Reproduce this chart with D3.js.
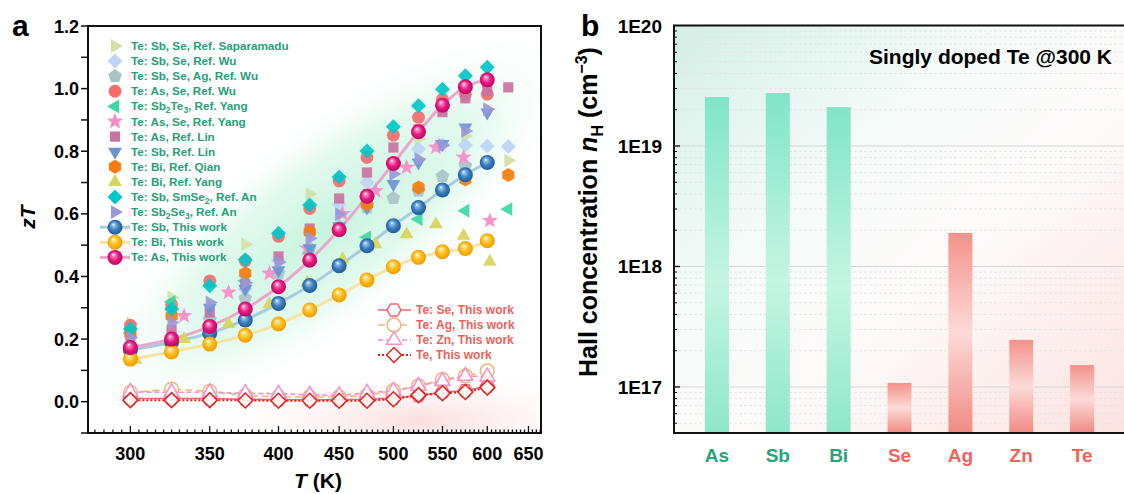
<!DOCTYPE html>
<html>
<head>
<meta charset="utf-8">
<script src="https://cdn.jsdelivr.net/npm/d3@7"></script>
<style>
  body { margin: 0; background: #fff; }
  svg { font-family: "Liberation Sans", Arial, sans-serif; font-weight: bold; }
</style>
</head>
<body>
<svg id="chart"></svg>
<script>
const W = 1124, H = 494

// ---- panel a data: zT vs T ----
const tThisWork = [300, 325, 350, 375, 400, 425, 450, 475, 500, 525, 550, 575, 600]
const ztSbThis = [0.165, 0.19, 0.219, 0.261, 0.314, 0.371, 0.434, 0.498, 0.562, 0.62, 0.676, 0.725, 0.764]
const ztBiThis = [0.136, 0.159, 0.184, 0.212, 0.248, 0.293, 0.341, 0.389, 0.431, 0.461, 0.479, 0.489, 0.514]
const ztAsThis = [0.173, 0.2, 0.24, 0.296, 0.367, 0.452, 0.549, 0.656, 0.761, 0.862, 0.947, 1.006, 1.028]
const ztSeThis = [0.01, 0.01, 0.01, 0.008, 0.006, 0.006, 0.006, 0.008, 0.012, 0.02, 0.03, 0.035, 0.05]
const ztAgThis = [0.03, 0.04, 0.033, 0.02, 0.015, 0.015, 0.015, 0.02, 0.035, 0.05, 0.07, 0.082, 0.098]
const ztZnThis = [0.031, 0.03, 0.03, 0.027, 0.025, 0.022, 0.02, 0.028, 0.035, 0.05, 0.066, 0.082, 0.08]
const ztTeThis = [0.005, 0.005, 0.005, 0.004, 0.003, 0.003, 0.003, 0.003, 0.008, 0.021, 0.027, 0.031, 0.045]

const tStep25 = [300, 325, 350, 375, 400, 425, 450, 475, 500, 525, 550, 575, 600]
const tStep25to625 = [300, 325, 350, 375, 400, 425, 450, 475, 500, 525, 550, 575, 600, 625]
const tYang = [303, 333, 363, 393, 423, 453, 483, 513, 543, 573, 603]

const tSaparamadu = [300, 325, 375, 425, 525, 575, 625]
const ztSaparamadu = [0.25, 0.333, 0.503, 0.663, 0.839, 0.849, 0.77]
const ztWuSbSe = [0.16, 0.21, 0.27, 0.36, 0.45, 0.54, 0.631, 0.70, 0.76, 0.807, 0.82, 0.82, 0.817, 0.815]
const tWuSbSeAg = [300, 325, 350, 375, 400, 425, 450, 475, 500, 525, 550, 575]
const ztWuSbSeAg = [0.16, 0.2, 0.26, 0.33, 0.41, 0.49, 0.56, 0.62, 0.65, 0.673, 0.72, 0.753]
const ztWuAsSe = [0.244, 0.31, 0.386, 0.45, 0.528, 0.617, 0.705, 0.78, 0.851, 0.908, 0.966, 0.982, 0.982]
const tYangSb2Te3 = [300, 325, 375, 425, 475, 525, 575, 625]
const ztYangSb2Te3 = [0.22, 0.319, 0.386, 0.474, 0.525, 0.583, 0.61, 0.615]
const tYangAsSe = [333, 363, 393, 423, 453, 483, 513, 543, 573, 603]
const ztYangAsSe = [0.274, 0.349, 0.41, 0.49, 0.6, 0.673, 0.748, 0.812, 0.78, 0.578]
const ztLinAs = [0.21, 0.23, 0.285, 0.375, 0.464, 0.553, 0.649, 0.732, 0.812, 0.87, 0.925, 0.969, 0.993, 1.004]
const ztLinSb = [0.16, 0.2, 0.3, 0.36, 0.42, 0.49, 0.56, 0.62, 0.695, 0.764, 0.823, 0.876, 0.924]
const tQian = [300, 325, 375, 425, 475, 525, 575, 625]
const ztQian = [0.218, 0.274, 0.41, 0.542, 0.631, 0.684, 0.71, 0.724]
const ztYangBi = [0.134, 0.2, 0.248, 0.311, 0.38, 0.455, 0.503, 0.535, 0.567, 0.53, 0.447]
const ztAnSmSe2 = [0.232, 0.296, 0.37, 0.453, 0.538, 0.628, 0.718, 0.801, 0.878, 0.945, 0.998, 1.041, 1.068]
const ztAnSb2Se3 = [0.205, 0.253, 0.317, 0.379, 0.445, 0.522, 0.599, 0.66, 0.727, 0.775, 0.819, 0.865, 0.934]

const xTicksA = [300, 350, 400, 450, 500, 550, 600, 650]
const yTicksA = [0.0, 0.2, 0.4, 0.6, 0.8, 1.0, 1.2]

// ---- panel b data: Hall concentration ----
const hallElements = ['As', 'Sb', 'Bi', 'Se', 'Ag', 'Zn', 'Te']
const hallValues = [2.55e19, 2.75e19, 2.1e19, 1.08e17, 1.9e18, 2.46e17, 1.52e17]
const hallGroup = ['g', 'g', 'g', 'r', 'r', 'r', 'r']
const yTicksB = [1e17, 1e18, 1e19, 1e20]
const yTickLabelsB = ['1E17', '1E18', '1E19', '1E20']

const svg = d3.select('#chart').attr('width', W).attr('height', H)
const defs = svg.append('defs')

// marker shapes
function poly(n, r, rot) {
  let pts = d3.range(n).map(i => {
    let a = rot + i * 2 * Math.PI / n
    return [r * Math.cos(a), r * Math.sin(a)]
  })
  return 'M' + pts.map(p => p[0].toFixed(2) + ',' + p[1].toFixed(2)).join('L') + 'Z'
}
function star(ro, ri) {
  let pts = d3.range(10).map(i => {
    let a = -Math.PI / 2 + i * Math.PI / 5, r = i % 2 ? ri : ro
    return [r * Math.cos(a), r * Math.sin(a)]
  })
  return 'M' + pts.map(p => p[0].toFixed(2) + ',' + p[1].toFixed(2)).join('L') + 'Z'
}
const shapes = {
  triRight: poly(3, 8, 0),
  triLeft: poly(3, 8, Math.PI),
  triDown: poly(3, 8, Math.PI / 2),
  triUp: poly(3, 8, -Math.PI / 2),
  diamond: poly(4, 7.5, 0),
  pentagon: poly(5, 7.2, -Math.PI / 2),
  hexagon: poly(6, 7, -Math.PI / 2),
  square: poly(4, 7.2, Math.PI / 4),
  circle: d3.symbol(d3.symbolCircle, 130)(),
  star: star(8.5, 3.6),
  hexOpen: poly(6, 7, 0),
  circleOpen: d3.symbol(d3.symbolCircle, 150)(),
  triOpen: poly(3, 8.5, -Math.PI / 2),
  diamondOpen: poly(4, 7.5, 0)
}

const refSeries = [
  { name: 'Te: Sb, Se, Ref. Saparamadu', shape: 'triRight', color: '#d3e2a4', T: tSaparamadu, zt: ztSaparamadu },
  { name: 'Te: Sb, Se, Ref. Wu', shape: 'diamond', color: '#bed5f5', T: tStep25to625, zt: ztWuSbSe },
  { name: 'Te: Sb, Se, Ag, Ref. Wu', shape: 'pentagon', color: '#a9c4c6', T: tWuSbSeAg, zt: ztWuSbSeAg },
  { name: 'Te: As, Se, Ref. Wu', shape: 'circle', color: '#f76d6b', T: tStep25, zt: ztWuAsSe },
  { name: 'Te: Sb2Te3, Ref. Yang', shape: 'triLeft', color: '#3fd7a3', T: tYangSb2Te3, zt: ztYangSb2Te3 },
  { name: 'Te: As, Se, Ref. Yang', shape: 'star', color: '#fa8bc9', T: tYangAsSe, zt: ztYangAsSe },
  { name: 'Te: As, Ref. Lin', shape: 'square', color: '#c9729f', T: tStep25to625, zt: ztLinAs },
  { name: 'Te: Sb, Ref. Lin', shape: 'triDown', color: '#6b93d3', T: tStep25, zt: ztLinSb },
  { name: 'Te: Bi, Ref. Qian', shape: 'hexagon', color: '#f97b0c', T: tQian, zt: ztQian },
  { name: 'Te: Bi, Ref. Yang', shape: 'triUp', color: '#d6d55c', T: tYang, zt: ztYangBi },
  { name: 'Te: Sb, SmSe2, Ref. An', shape: 'diamond', color: '#00c7c8', T: tStep25, zt: ztAnSmSe2 },
  { name: 'Te: Sb2Se3, Ref. An', shape: 'triRight', color: '#9a98d8', T: tStep25, zt: ztAnSb2Se3 }
]
const thisWork = [
  { name: 'Te: Sb, This work', zt: ztSbThis, base: '#3a7dbd', dark: '#1d558f', light: '#8fc0ea', line: '#a9cbe0', id: 'ballSb' },
  { name: 'Te: Bi, This work', zt: ztBiThis, base: '#ffba14', dark: '#e99700', light: '#ffe08a', line: '#f7e3a3', id: 'ballBi' },
  { name: 'Te: As, This work', zt: ztAsThis, base: '#ea1580', dark: '#b3075f', light: '#f78cc0', line: '#eba6cb', id: 'ballAs' }
]
const lowSeries = [
  { name: 'Te: Se, This work', zt: ztSeThis, shape: 'hexOpen', color: '#f26472', dash: null, w: 1.6 },
  { name: 'Te: Ag, This work', zt: ztAgThis, shape: 'circleOpen', color: '#e9b97c', dash: '7,4', w: 1.6 },
  { name: 'Te: Zn, This work', zt: ztZnThis, shape: 'triOpen', color: '#f98fc6', dash: '5,3', w: 1.6 },
  { name: 'Te, This work', zt: ztTeThis, shape: 'diamondOpen', color: '#e3221d', dash: '2,2', w: 2 }
]

// ball gradients
thisWork.forEach(s => {
  let g = defs.append('radialGradient').attr('id', s.id)
    .attr('cx', '50%').attr('cy', '50%').attr('r', '55%').attr('fx', '38%').attr('fy', '30%')
  g.append('stop').attr('offset', '0%').attr('stop-color', '#ffffff')
  g.append('stop').attr('offset', '18%').attr('stop-color', s.light)
  g.append('stop').attr('offset', '55%').attr('stop-color', s.base)
  g.append('stop').attr('offset', '100%').attr('stop-color', s.dark)
})

// ================= panel a =================
const A = { l: 88, r: 541, t: 26, b: 433 }
const xA = d3.scaleLog().domain([276.3, 666]).range([A.l, A.r])
const yA = d3.scaleLinear().domain([-0.1, 1.2]).range([A.b, A.t])

defs.append('clipPath').attr('id', 'clipA').append('rect')
  .attr('x', A.l).attr('y', A.t).attr('width', A.r - A.l).attr('height', A.b - A.t)

let glowG = defs.append('radialGradient').attr('id', 'glowGreen')
glowG.append('stop').attr('offset', '0%').attr('stop-color', '#c4f4dd').attr('stop-opacity', 0.95)
glowG.append('stop').attr('offset', '55%').attr('stop-color', '#d6f7e7').attr('stop-opacity', 0.7)
glowG.append('stop').attr('offset', '100%').attr('stop-color', '#ffffff').attr('stop-opacity', 0)
let glowP = defs.append('radialGradient').attr('id', 'glowPink')
glowP.append('stop').attr('offset', '0%').attr('stop-color', '#fbdada').attr('stop-opacity', 0.9)
glowP.append('stop').attr('offset', '100%').attr('stop-color', '#ffffff').attr('stop-opacity', 0)

const gA = svg.append('g')
const bgA = gA.append('g').attr('clip-path', 'url(#clipA)')
bgA.append('ellipse').attr('cx', 330).attr('cy', 225).attr('rx', 310).attr('ry', 105)
  .attr('transform', 'rotate(-37 330 225)').attr('fill', 'url(#glowGreen)')
bgA.append('ellipse').attr('cx', 420).attr('cy', 420).attr('rx', 230).attr('ry', 55)
  .attr('fill', 'url(#glowPink)')

// axes of panel a
const axA = gA.append('g')
axA.append('rect').attr('x', A.l).attr('y', A.t).attr('width', A.r - A.l).attr('height', A.b - A.t)
  .attr('fill', 'none').attr('stroke', '#111').attr('stroke-width', 2)
d3.range(-0.1, 1.21, 0.1).forEach(v => {
  axA.append('line').attr('x1', A.l - 7).attr('x2', A.l).attr('y1', yA(v)).attr('y2', yA(v))
    .attr('stroke', '#111').attr('stroke-width', 1.5)
})
yTicksA.forEach(v => {
  axA.append('text').attr('x', A.l - 9).attr('y', yA(v) + 6.5).attr('text-anchor', 'end')
    .attr('font-size', 18).text(v.toFixed(1))
})
d3.range(280, 666, 5).forEach(v => {
  let major = v % 50 === 0
  axA.append('line').attr('x1', xA(v)).attr('x2', xA(v)).attr('y1', A.b).attr('y2', A.b - (major ? 7 : 3.5))
    .attr('stroke', '#111').attr('stroke-width', 1.3)
})
xTicksA.forEach(v => {
  axA.append('text').attr('x', xA(v)).attr('y', 460).attr('text-anchor', 'middle')
    .attr('font-size', 18).text(v)
})
axA.append('text').attr('transform', 'translate(35,217) rotate(-90)').attr('text-anchor', 'middle')
  .attr('font-size', 21).attr('font-style', 'italic').text('zT')
let xt = axA.append('text').attr('x', 318).attr('y', 488).attr('text-anchor', 'middle').attr('font-size', 21)
xt.append('tspan').attr('font-style', 'italic').text('T')
xt.append('tspan').text(' (K)')
svg.append('text').attr('x', 12).attr('y', 36).attr('font-size', 30).text('a')

const dataA = gA.append('g').attr('clip-path', 'url(#clipA)')

// low zT series
lowSeries.forEach(s => {
  let pts = tThisWork.map((t, i) => [xA(t), yA(s.zt[i])])
  dataA.append('path').attr('d', d3.line()(pts)).attr('fill', 'none')
    .attr('stroke', s.color).attr('stroke-width', s.w).attr('stroke-dasharray', s.dash)
  pts.forEach(p => {
    dataA.append('path').attr('d', shapes[s.shape]).attr('transform', `translate(${p[0]},${p[1]})`)
      .attr('fill', '#fff').attr('fill-opacity', 0.85).attr('stroke', s.color).attr('stroke-width', 1.5)
  })
})

// this work fitted lines
thisWork.forEach(s => {
  let pts = tThisWork.map((t, i) => [xA(t), yA(s.zt[i])])
  dataA.append('path').attr('d', d3.line().curve(d3.curveCatmullRom)(pts)).attr('fill', 'none')
    .attr('stroke', s.line).attr('stroke-width', 3)
})

// reference markers
refSeries.forEach(s => {
  s.T.forEach((t, i) => {
    dataA.append('path').attr('d', shapes[s.shape])
      .attr('transform', `translate(${xA(t)},${yA(s.zt[i])})`)
      .attr('fill', s.color).attr('fill-opacity', 0.92)
  })
})

// this work balls
thisWork.forEach(s => {
  tThisWork.forEach((t, i) => {
    dataA.append('circle').attr('cx', xA(t)).attr('cy', yA(s.zt[i])).attr('r', 7.5)
      .attr('fill', `url(#${s.id})`)
  })
})

// legend panel a (green)
const legA = gA.append('g')
const legColor = '#28a077'
// chemical formulas get subscripts: Sb2Te3 -> Sb<sub>2</sub>Te<sub>3</sub>
function legendLabel(sel, s) {
  let t = sel.append('text').attr('x', 131).attr('y', 4).attr('font-size', 11.7).attr('fill', legColor)
  let parts = s.name.split(/(\d)/)
  let shifted = false
  parts.forEach(p => {
    if (p === '') return
    if (/^\d$/.test(p)) {
      t.append('tspan').attr('font-size', 8.5).attr('dy', 3).text(p)
      shifted = true
    } else {
      let ts = t.append('tspan').text(p)
      if (shifted) { ts.attr('dy', -3); shifted = false }
    }
  })
}
refSeries.forEach((s, i) => {
  let row = legA.append('g').attr('transform', `translate(0,${46 + i * 15.1})`)
  row.append('path').attr('d', shapes[s.shape]).attr('transform', 'translate(115,0)').attr('fill', s.color)
  legendLabel(row, s)
})
thisWork.forEach((s, i) => {
  let row = legA.append('g').attr('transform', `translate(0,${46 + (12 + i) * 15.1})`)
  row.append('line').attr('x1', 100).attr('x2', 130).attr('stroke', s.line).attr('stroke-width', 3)
  row.append('circle').attr('cx', 115).attr('r', 7.5).attr('fill', `url(#${s.id})`)
  legendLabel(row, s)
})
lowSeries.forEach((s, i) => {
  let row = legA.append('g').attr('transform', `translate(0,${310 + i * 15})`)
  row.append('line').attr('x1', 378).attr('x2', 411).attr('stroke', s.color).attr('stroke-width', s.w)
    .attr('stroke-dasharray', s.dash)
  row.append('path').attr('d', shapes[s.shape]).attr('transform', 'translate(394,0)')
    .attr('fill', '#fff').attr('stroke', s.color).attr('stroke-width', 1.5)
  row.append('text').attr('x', 416).attr('y', 4).attr('font-size', 12).attr('fill', '#ee5f5a').text(s.name)
})

// ================= panel b =================
const B = { l: 674, r: 1125, t: 25.5, b: 433 }
const xB = d3.scalePoint().domain(hallElements).range([B.l, B.r]).padding(0.705)
const yB = d3.scaleLog().domain([4.15e16, 1e20]).range([B.b, B.t])

let bgB = defs.append('linearGradient').attr('id', 'bgB').attr('x1', 0).attr('y1', 0).attr('x2', 1).attr('y2', 1)
bgB.append('stop').attr('offset', '0%').attr('stop-color', '#d3efe5')
bgB.append('stop').attr('offset', '35%').attr('stop-color', '#f5fbf9')
bgB.append('stop').attr('offset', '60%').attr('stop-color', '#fefafa')
bgB.append('stop').attr('offset', '100%').attr('stop-color', '#fbe3e0')

let barG = defs.append('linearGradient').attr('id', 'barG').attr('x1', 0).attr('y1', 0).attr('x2', 0).attr('y2', 1)
barG.append('stop').attr('offset', '0%').attr('stop-color', '#80e5c7')
barG.append('stop').attr('offset', '55%').attr('stop-color', '#c5f5e3')
barG.append('stop').attr('offset', '100%').attr('stop-color', '#8ee7ca')
let barR = defs.append('linearGradient').attr('id', 'barR').attr('x1', 0).attr('y1', 0).attr('x2', 0).attr('y2', 1)
barR.append('stop').attr('offset', '0%').attr('stop-color', '#f4928a')
barR.append('stop').attr('offset', '50%').attr('stop-color', '#fcdad7')
barR.append('stop').attr('offset', '100%').attr('stop-color', '#f18b83')

const gB = svg.append('g')
gB.append('rect').attr('x', B.l).attr('y', B.t).attr('width', B.r - B.l).attr('height', B.b - B.t)
  .attr('fill', 'url(#bgB)')

// grid
let minorVals = []
;[16, 17, 18, 19].forEach(d => d3.range(2, 10).forEach(k => {
  let v = k * Math.pow(10, d)
  if (v > 4.15e16 && v < 1e20) minorVals.push(v)
}))
minorVals.forEach(v => {
  gB.append('line').attr('x1', B.l).attr('x2', B.r).attr('y1', yB(v)).attr('y2', yB(v))
    .attr('stroke', '#e2e2e2').attr('stroke-width', 0.8).attr('stroke-dasharray', '3,2')
  gB.append('line').attr('x1', B.l).attr('x2', B.l + 3).attr('y1', yB(v)).attr('y2', yB(v))
    .attr('stroke', '#111').attr('stroke-width', 1)
})
yTicksB.slice(0, 3).forEach(v => {
  gB.append('line').attr('x1', B.l).attr('x2', B.r).attr('y1', yB(v)).attr('y2', yB(v))
    .attr('stroke', '#d6d6d6').attr('stroke-width', 1)
  gB.append('line').attr('x1', B.l).attr('x2', B.l + 6).attr('y1', yB(v)).attr('y2', yB(v))
    .attr('stroke', '#111').attr('stroke-width', 1.3)
})

// bars
gB.selectAll('rect.bar').data(hallElements).enter().append('rect').attr('class', 'bar')
  .attr('x', d => xB(d) - 12).attr('width', 24)
  .attr('y', (d, i) => yB(hallValues[i])).attr('height', (d, i) => B.b - yB(hallValues[i]))
  .attr('fill', (d, i) => hallGroup[i] === 'g' ? 'url(#barG)' : 'url(#barR)')

// frame
gB.append('rect').attr('x', B.l).attr('y', B.t).attr('width', B.r - B.l).attr('height', B.b - B.t)
  .attr('fill', 'none').attr('stroke', '#111').attr('stroke-width', 2)

yTicksB.forEach((v, i) => {
  gB.append('text').attr('x', 662).attr('y', yB(v) + 7).attr('text-anchor', 'end')
    .attr('font-size', 19).text(yTickLabelsB[i])
})
hallElements.forEach((d, i) => {
  gB.append('text').attr('x', xB(d)).attr('y', 462).attr('text-anchor', 'middle').attr('font-size', 19)
    .attr('fill', hallGroup[i] === 'g' ? '#25a679' : '#f2635a').text(d)
})
gB.append('text').attr('x', 1112).attr('y', 64).attr('text-anchor', 'end').attr('font-size', 21)
  .text('Singly doped Te @300 K')

let yt = gB.append('text').attr('transform', 'translate(597,212) rotate(-90)').attr('text-anchor', 'middle')
  .attr('font-size', 25)
yt.append('tspan').text('Hall concentration ')
yt.append('tspan').attr('font-style', 'italic').text('n')
yt.append('tspan').attr('font-size', 16).attr('dy', 6).text('H')
yt.append('tspan').attr('dy', -6).text(' (cm')
yt.append('tspan').attr('font-size', 16).attr('dy', -10).text('\u22123')
yt.append('tspan').attr('dy', 10).text(')')

svg.append('text').attr('x', 581).attr('y', 36).attr('font-size', 30).text('b')
</script>
</body>
</html>
